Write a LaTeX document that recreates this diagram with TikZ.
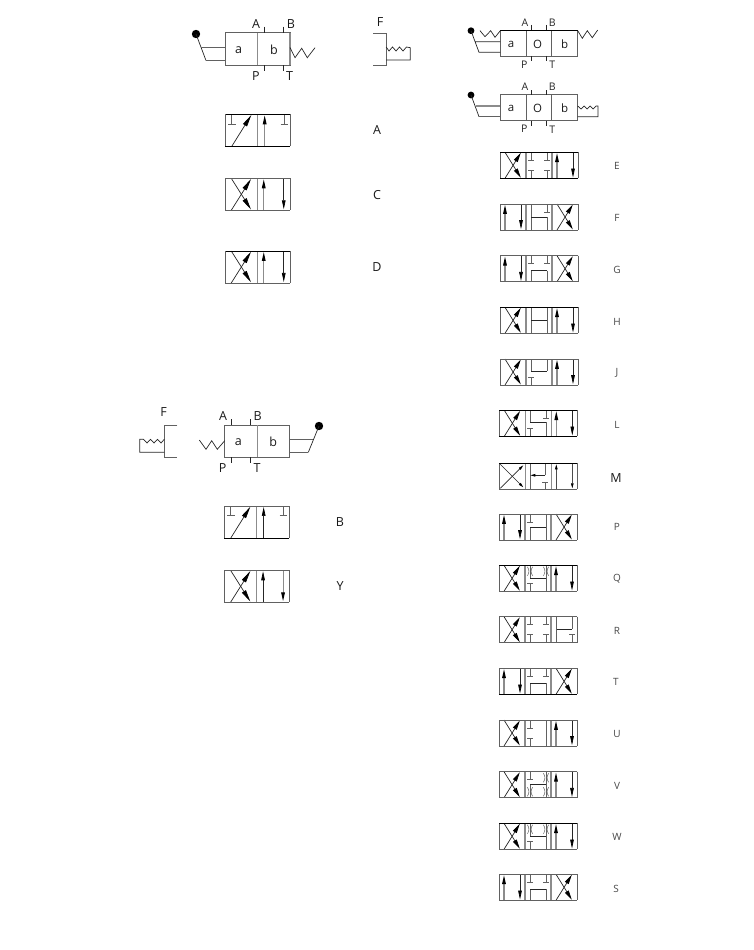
\documentclass[tikz,border=0pt]{standalone}
\usepackage{fontspec}
\setmainfont{Open Sans}
\usetikzlibrary{arrows.meta}
\def\fatlen{12pt}
\def\fatwid{4.6pt}
\tikzset{
  dk/.style={draw=black!85,line width=.7pt},
  gr/.style={draw=black!45,line width=1.1pt},
  md/.style={draw=black!62,line width=.8pt},
  blk/.style={draw=black,line width=.85pt},
  head/.style={-{Triangle[length=9pt,width=3.6pt,color=black]}},
  fat/.style={-{Triangle[length=\fatlen,width=\fatwid,color=black]}},
  tiny/.style={-{Triangle[length=5pt,width=2.5pt,color=black]}},
  lab/.style={font=\fontsize{12.5}{12.5}\selectfont,text=black!90,inner sep=0pt},
  sm/.style={font=\fontsize{10}{10}\selectfont,text=black!72,inner sep=0pt},
  hdr/.style={font=\fontsize{10.5}{10.5}\selectfont,text=black!85,inner sep=0pt},
  let/.style={font=\fontsize{11.5}{11.5}\selectfont,text=black!90,inner sep=0pt},
}
% parts inside a symbol (unit: cell 26 x 26 before scaling)
\newcommand{\cellX}[1]{%
  \draw[dk,fat] (#1+5,26) -- (#1+20.8,.6);
  \draw[dk,fat] (#1+5,0) -- (#1+20.8,25.4);}
\newcommand{\cellP}[3]{%
  \draw[#2,head] (#1+5,26) -- (#1+5,.8);
  \draw[#3,head] (#1+21,0) -- (#1+21,25.2);}
\newcommand{\tTop}[1]{\draw[md] (#1,0) -- (#1,8) (#1-3,8) -- (#1+3,8);}
\newcommand{\tBot}[1]{\draw[md] (#1,26) -- (#1,18) (#1-3,18) -- (#1+3,18);}
\newcommand{\rail}[3]{\draw[md] (#1,#2) -- (#1,#3);}
\newcommand{\hor}[3]{\draw[dk] (#1,#3) -- (#2,#3);}
\newcommand{\thr}[2]{%
  \draw[draw=black!60,line width=.55pt]
    (#1-2.6,#2-4.5) .. controls (#1-.6,#2-1.5) and (#1-.6,#2+1.5) .. (#1-2.6,#2+4.5)
    (#1+2.6,#2-4.5) .. controls (#1+.6,#2-1.5) and (#1+.6,#2+1.5) .. (#1+2.6,#2+4.5);}
% symbols: x, y, top style, bottom style, content
\newcommand{\symThree}[5]{%
  \begin{scope}[shift={(#1,#2)}]
    \def\fatlen{9.5pt}\def\fatwid{4.2pt}
    #5
    \draw[gr] (26,0) -- (26,26) (52,0) -- (52,26);
    \draw[md] (0,0) -- (0,26) (78,0) -- (78,26);
    \draw[#3] (0,0) -- (78,0);
    \draw[#4] (0,26) -- (78,26);
  \end{scope}}
\newcommand{\symTwo}[5]{%
  \begin{scope}[shift={(#1,#2)},xscale=1.25,yscale=1.23]
    #5
    \draw[gr] (26,0) -- (26,26);
    \draw[#3] (0,0) -- (52,0);
    \draw[#4] (0,26) -- (52,26);
    \draw[md] (0,0) -- (0,26) (52,0) -- (52,26);
  \end{scope}}
\begin{document}
\begin{tikzpicture}[x=1pt,y=-1pt]
\useasboundingbox (0,0) rectangle (754,950);

% ---- top-left header
\draw[md] (225,32.7) rectangle (290,65.3);
\draw[gr] (257.5,32.7) -- (257.5,65.3) (290,32.7) -- (290,65.3);
\draw[dk] (264.7,26.7) -- (264.7,32.7) (283.7,26.7) -- (283.7,32.7)
          (264.7,65.3) -- (264.7,71.5) (283.7,65.3) -- (283.7,71.5);
\fill (196,34) circle (4.2);
\draw[dk] (196,34) -- (206,60.5);
\draw[md] (206,60.5) -- (225,60.5) (201,47.5) -- (225,47.5);
\draw[dk] (290,47.5) -- (295,57.7) -- (301.7,48.3) -- (307.3,57.7) -- (315,47.7);
\node[lab] (lA1) at (256,24) {A};
\node[lab] (lB1) at (291,24) {B};
\node[lab] (lP1) at (256,76) {P};
\node[lab] (lT1) at (289.5,76.5) {T};
\node[lab] (la1) at (238.5,50) {a};
\node[lab] (lb1) at (274,50) {b};
% F
\node[lab] (lF1) at (380,22) {F};
\draw[md] (373.3,33.3) -- (386.2,33.3) -- (386.2,65.3) -- (373.3,65.3);
\draw[dk] (386.2,47) -- (389,51) -- (392.5,47) -- (396,51) -- (399.5,47) -- (403,51) -- (406.5,47) -- (410.3,47.7) -- (410.3,60) -- (386.2,60);

% ---- symbols column 1
\symTwo{225.3}{114.3}{blk}{blk}{%
  \draw[dk,fat] (5.2,26) -- (20.8,.6);
  \tTop{5.2}\tTop{47.2}
  \draw[gr,head] (31.5,26) -- (31.5,.8);}
\symTwo{225}{178.3}{md}{md}{\cellX{0}\cellP{26}{gr}{dk}}
\symTwo{225}{251}{blk}{md}{\cellX{0}\cellP{26}{gr}{dk}}
\node[lab] (lA) at (377,130) {A};
\node[lab] (lC) at (377,195) {C};
\node[lab] (lD) at (377,267.5) {D};

% ---- lower-left header
\node[lab] (lF2) at (163.5,412.5) {F};
\draw[md] (177.3,425) -- (164.3,425) -- (164.3,457.3) -- (177.3,457.3);
\draw[dk] (164.3,439.3) -- (161,443) -- (157.5,439.3) -- (154,443) -- (150.5,439.3) -- (147,443) -- (143.5,439.3) -- (139.7,439.3) -- (139.7,452.3) -- (164.3,452.3);
\draw[md] (224.7,425) rectangle (289.3,457.3);
\draw[gr] (257.3,425) -- (257.3,457.3);
\draw[dk] (231.3,419.3) -- (231.3,425) (250.7,419.3) -- (250.7,425)
          (231.3,457.3) -- (231.3,463.3) (250.7,457.3) -- (250.7,463.3);
\draw[dk] (199.3,440) -- (206,449.3) -- (211.7,440.7) -- (217.3,449.3) -- (224.7,440.7);
\fill (319,426) circle (4.2);
\draw[dk] (319,426) -- (308.3,452.3);
\draw[md] (308.3,452.3) -- (289.3,452.3) (289.3,439.3) -- (313.3,439.3);
\node[lab] (lA2) at (223,415.7) {A};
\node[lab] (lB2) at (257.7,415.7) {B};
\node[lab] (lP2) at (222.7,467.7) {P};
\node[lab] (lT2) at (257,467.7) {T};
\node[lab] (la2) at (238.3,442.3) {a};
\node[lab] (lb2) at (273.3,442.3) {b};
\symTwo{224.3}{506}{md}{blk}{%
  \draw[dk,fat] (5.2,26) -- (20.8,.6);
  \tTop{5.2}\tTop{47.2}
  \draw[dk,head] (31.5,26) -- (31.5,.8);}
\symTwo{224.3}{570.3}{md}{md}{\cellX{0}\cellP{26}{dk}{gr}}
\node[lab] (lB) at (340,522) {B};
\node[lab] (lY) at (340,586) {Y};

% ---- right headers
\draw[md] (500.3,30) rectangle (577.7,56);
\draw[md] (526,30) -- (526,56) (551.7,30) -- (551.7,56);
\draw[blk] (500.3,30) -- (577.7,30);
\draw[dk] (531.7,25) -- (531.7,30) (546.7,25) -- (546.7,30)
          (531.7,56) -- (531.7,61) (546.7,56) -- (546.7,61);
\fill (471,30.7) circle (3.4);
\draw[dk] (471,30.7) -- (479,52.3) -- (500.3,52.3) (475.7,41.7) -- (500.3,41.7);
\draw[dk] (480,30.7) -- (485,36.7) -- (490.7,30.7) -- (495,37.3) -- (500.3,30.7);
\draw[dk] (577.7,30.7) -- (582.3,38.3) -- (587.3,30.7) -- (592.3,37.7) -- (597.7,30);
\node[hdr] (lA3) at (525,22.3) {A};
\node[hdr] (lB3) at (552.3,22.3) {B};
\node[hdr] (lP3) at (524.3,64.5) {P};
\node[hdr] (lT3) at (552.3,65) {T};
\node[let] (la3) at (511,44) {a};
\node[let] (lO3) at (537.7,44) {O};
\node[let] (lb3) at (564.7,44) {b};

\draw[md] (500.3,94.7) rectangle (577.7,120.7);
\draw[md] (526,94.7) -- (526,120.7) (551.7,94.7) -- (551.7,120.7);
\draw[dk] (531.7,90) -- (531.7,94.7) (546.7,90) -- (546.7,94.7)
          (531.7,120.7) -- (531.7,125.7) (546.7,120.7) -- (546.7,125.7);
\fill (471,95) circle (3.4);
\draw[dk] (471,95) -- (479,116.7);
\draw[md] (479,116.7) -- (500.3,116.7);
\draw[gr] (475.7,106) -- (500.3,106);
\draw[dk] (577.7,106) -- (581,109) -- (584,106) -- (587,109) -- (590,106) -- (593,109) -- (596,106) -- (598,106) -- (598,116.7) -- (577.7,116.7);
\node[hdr] (lA4) at (525,87) {A};
\node[hdr] (lB4) at (552.3,87) {B};
\node[hdr] (lP4) at (524.3,129) {P};
\node[hdr] (lT4) at (552.3,129.5) {T};
\node[let] (la4) at (511,108) {a};
\node[let] (lO4) at (537.7,108) {O};
\node[let] (lb4) at (564.7,108) {b};

% ---- right column symbols
\symThree{500}{152.3}{blk}{blk}{\cellX{0}\tTop{31}\tTop{47}\tBot{31}\tBot{47}\cellP{52}{gr}{dk}}
\symThree{500}{204}{md}{md}{\cellP{0}{gr}{dk}\rail{31}{0}{26}\hor{31}{47}{13}\rail{47}{13}{26}\tTop{47}\cellX{52}}
\symThree{500}{255.7}{md}{md}{\cellP{0}{gr}{dk}\tTop{31}\tTop{47}\rail{31}{15}{26}\hor{31}{47}{15}\rail{47}{15}{26}\cellX{52}}
\symThree{500}{307.3}{blk}{md}{\cellX{0}\rail{31}{0}{26}\rail{47}{0}{26}\hor{31}{47}{13}\cellP{52}{gr}{dk}}
\symThree{500}{359}{md}{md}{\cellX{0}\rail{31}{0}{12}\hor{31}{47}{12}\rail{47}{0}{12}\tBot{31}\cellP{52}{gr}{dk}}
\symThree{499.3}{410.3}{blk}{blk}{\cellX{0}\rail{31}{0}{12}\hor{31}{47}{12}\rail{47}{12}{26}\tTop{47}\tBot{31}\cellP{52}{gr}{dk}}
\symThree{499.3}{463.3}{blk}{md}{%
  \draw[dk,tiny] (1,25) -- (24,2);
  \draw[dk,tiny] (1,1) -- (24,24);
  \rail{31}{0}{26}
  \draw[dk,tiny] (46,12) -- (31,12);
  \rail{46}{0}{12}
  \draw[md] (46,26) -- (46,19) (43,19) -- (49,19);
  \draw[draw=black!70,line width=.6pt,tiny] (57,26) -- (57,1);
  \draw[draw=black!70,line width=.6pt,tiny] (73,0) -- (73,25);
  \draw[blk] (0,0) -- (0,26) (26,0) -- (26,26) (0,26) -- (26,26);}
\symThree{499}{514}{md}{md}{\cellP{0}{gr}{dk}\tTop{31}\rail{31}{13}{26}\hor{31}{47}{13}\rail{47}{0}{26}\cellX{52}}
\symThree{499}{565.3}{blk}{md}{\cellX{0}\thr{31}{6}\thr{47}{6}\rail{31}{0}{13}\hor{31}{47}{13}\rail{47}{0}{26}\tBot{31}\cellP{52}{gr}{dk}}
\symThree{499}{616.7}{md}{md}{\cellX{0}\tTop{31}\tTop{47}\tBot{31}\tBot{47}\rail{57.5}{0}{26}\hor{57.5}{73}{12.5}\rail{73}{0}{12.5}\tBot{73}}
\symThree{499}{668.3}{md}{blk}{\cellP{0}{gr}{dk}\tTop{31}\tTop{47}\rail{31}{15}{26}\hor{31}{47}{15}\rail{47}{15}{26}\cellX{52}}
\symThree{499}{720}{md}{md}{\cellX{0}\tTop{31}\tBot{31}\rail{47}{0}{26}\cellP{52}{gr}{dk}}
\symThree{499}{771.7}{md}{md}{\cellX{0}\tTop{31}\thr{47}{6}\rail{47}{0}{26}\hor{31}{47}{13}\rail{31}{13}{26}\thr{31}{20}\thr{47}{20}\cellP{52}{gr}{dk}}
\symThree{499}{823.3}{blk}{md}{\cellX{0}\thr{31}{6}\thr{47}{6}\rail{31}{0}{13}\hor{31}{47}{13}\rail{47}{0}{26}\tBot{31}\cellP{52}{gr}{dk}}
\symThree{499}{874.3}{md}{md}{\cellP{0}{gr}{dk}\tTop{31}\tTop{47}\rail{31}{15}{26}\hor{31}{47}{15}\rail{47}{15}{26}\cellX{52}}

\node[sm] (lE) at (617,165.5) {E};
\node[sm] (lFF) at (617,217.5) {F};
\node[sm] (lG) at (617,269.5) {G};
\node[sm] (lH) at (617,321.5) {H};
\node[sm] (lJ) at (617,372.5) {J};
\node[sm] (lL) at (617,424.5) {L};
\node[lab] (lM) at (616,478) {M};
\node[sm] (lPP) at (617,526.5) {P};
\node[sm] (lQ) at (617,578.5) {Q};
\node[sm] (lR) at (617,630.5) {R};
\node[sm] (lTT) at (616,681.5) {T};
\node[sm] (lU) at (617,733.5) {U};
\node[sm] (lV) at (617,785.5) {V};
\node[sm] (lW) at (617,836.5) {W};
\node[sm] (lS) at (616,888.5) {S};
\end{tikzpicture}
\end{document}
